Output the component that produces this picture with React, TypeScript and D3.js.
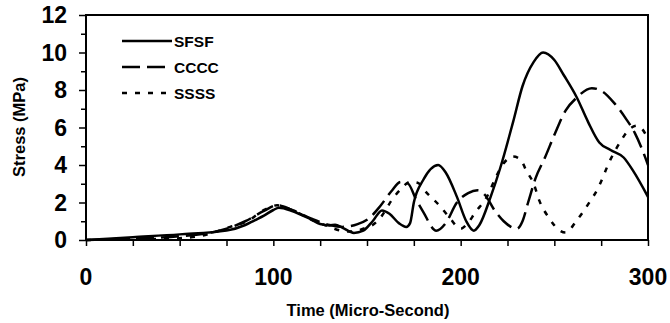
import React, { useEffect, useRef } from 'react';
import * as d3 from 'd3';

// stress histories (time in micro-second, stress in MPa)
const sfsfTime = [0, 25, 50, 75, 85, 90, 95, 100, 103, 110, 120, 125, 130, 133, 137, 143, 148, 153, 158, 162, 167, 171, 173, 175, 180, 188, 192, 198, 203, 207, 210, 216, 221, 228, 233, 239, 244, 250, 255, 262, 268, 274, 280, 287, 292, 300];
const sfsfStress = [0, 0.15, 0.3, 0.5, 0.8, 1.05, 1.3, 1.6, 1.72, 1.55, 1.1, 0.85, 0.78, 0.82, 0.65, 0.38, 0.5, 1.0, 1.58, 1.4, 0.9, 0.7, 0.9, 2.0, 3.2, 4.0, 3.6, 2.3, 1.0, 0.5, 0.8, 2.3, 3.8, 6.3, 8.2, 9.5, 10.0, 9.6, 8.8, 7.6, 6.3, 5.2, 4.8, 4.4, 3.7, 2.3];

const ccccTime = [0, 25, 50, 75, 85, 95, 102, 110, 120, 130, 137, 145, 151, 157, 163, 168, 172, 176, 180, 187, 192, 198, 204, 209, 213, 218, 223, 230, 233, 236, 240, 245, 250, 256, 262, 270, 276, 282, 288, 293, 297, 300];
const ccccStress = [0, 0.08, 0.2, 0.6, 1.0, 1.55, 1.85, 1.6, 1.15, 0.8, 0.7, 0.85, 1.15, 1.8, 2.6, 3.1, 3.0, 2.2, 1.5, 0.5, 0.9, 2.0, 2.5, 2.65, 2.4, 1.6, 1.0, 0.6, 1.0, 2.0, 3.3, 4.4, 5.6, 6.9, 7.6, 8.1, 7.9, 7.3, 6.5, 5.7, 4.8, 4.0];

const ssssTime = [0, 25, 41, 59, 77, 86, 96, 102, 110, 120, 130, 136, 142, 148, 153, 158, 163, 168, 173, 177, 182, 189, 194, 200, 203, 208, 214, 219, 223, 228, 232, 235, 239, 242, 247, 253, 256, 262, 268, 273, 280, 285, 290, 294, 297, 300];
const ssssStress = [0, 0.05, 0.06, 0.18, 0.7, 1.0, 1.65, 1.85, 1.6, 1.1, 0.7, 0.5, 0.45, 0.6, 0.8, 1.3, 2.1, 2.7, 3.1, 3.05, 2.5, 1.8, 1.2, 0.6, 0.8, 1.5, 2.3, 3.4, 4.1, 4.45, 4.3, 3.7, 3.0, 2.1, 1.2, 0.5, 0.4, 1.05, 1.9, 2.7, 4.3, 5.2, 5.9, 6.1, 5.9, 5.4];

const seriesNames = ['SFSF', 'CCCC', 'SSSS'];
const xTicks = [0, 100, 200, 300];
const yTicks = [0, 2, 4, 6, 8, 10, 12];

const App = () => {
  const svgRef = useRef<SVGSVGElement>(null);

  useEffect(() => {
    const width = 670;
    const height = 323;
    const margin = { top: 15, right: 22, bottom: 83, left: 86 };

    const svg = d3.select(svgRef.current).attr('width', width).attr('height', height);
    svg.selectAll('*').remove();

    const x = d3.scaleLinear().domain([0, 300]).range([margin.left, width - margin.right]);
    const y = d3.scaleLinear().domain([0, 12]).range([height - margin.bottom, margin.top]);

    const font = 'Liberation Sans, Arial, sans-serif';

    // frame
    svg.append('rect')
      .attr('x', x(0)).attr('y', y(12))
      .attr('width', x(300) - x(0)).attr('height', y(0) - y(12))
      .attr('fill', 'none').attr('stroke', '#000').attr('stroke-width', 2);

    // y axis
    const yAxis = svg.append('g').attr('transform', `translate(${x(0)},0)`);
    yAxis.call(d3.axisLeft(y).tickValues(d3.range(0, 13, 1)).tickSize(6).tickFormat(() => ''));
    yAxis.selectAll('.tick line').attr('stroke-width', 1.5)
      .attr('x2', (d: any) => (d % 2 === 0 ? -7 : -5));
    yAxis.select('.domain').remove();
    yTicks.forEach(v => {
      svg.append('text')
        .attr('x', 67).attr('y', y(v)).attr('dy', '0.36em')
        .attr('text-anchor', 'end')
        .attr('font-family', font).attr('font-weight', 'bold').attr('font-size', 23)
        .text(v);
    });

    // x axis
    const xAxis = svg.append('g').attr('transform', `translate(0,${y(0)})`);
    xAxis.call(d3.axisBottom(x).tickValues(d3.range(0, 301, 25)).tickSize(6).tickFormat(() => ''));
    xAxis.selectAll('.tick line').attr('stroke-width', 1.5);
    xAxis.select('.domain').remove();
    xTicks.forEach(v => {
      svg.append('text')
        .attr('x', x(v)).attr('y', 285)
        .attr('text-anchor', 'middle')
        .attr('font-family', font).attr('font-weight', 'bold').attr('font-size', 23)
        .text(v);
    });

    // axis titles
    svg.append('text')
      .attr('transform', `translate(25,127) rotate(-90)`)
      .attr('text-anchor', 'middle')
      .attr('font-family', font).attr('font-weight', 'bold').attr('font-size', 16.5)
      .text('Stress (MPa)');
    svg.append('text')
      .attr('x', 368).attr('y', 316)
      .attr('text-anchor', 'middle')
      .attr('font-family', font).attr('font-weight', 'bold').attr('font-size', 16.5)
      .text('Time (Micro-Second)');

    const line = d3.line<[number, number]>()
      .x(d => x(d[0]))
      .y(d => y(d[1]))
      .curve(d3.curveMonotoneX);

    const series = [
      { name: seriesNames[0], pts: d3.zip(sfsfTime, sfsfStress) as [number, number][], dash: null },
      { name: seriesNames[1], pts: d3.zip(ccccTime, ccccStress) as [number, number][], dash: '18,7' },
      { name: seriesNames[2], pts: d3.zip(ssssTime, ssssStress) as [number, number][], dash: '5,8' },
    ];

    const plot = svg.append('g');
    series.forEach(s => {
      plot.append('path')
        .attr('d', line(s.pts))
        .attr('fill', 'none')
        .attr('stroke', '#000')
        .attr('stroke-width', 2.5)
        .attr('stroke-dasharray', s.dash);
    });

    // legend
    const legend = svg.append('g');
    series.forEach((s, i) => {
      const ly = 41 + i * 26;
      legend.append('line')
        .attr('x1', 122).attr('x2', 172).attr('y1', ly).attr('y2', ly)
        .attr('stroke', '#000').attr('stroke-width', 2.5)
        .attr('stroke-dasharray', s.dash);
      legend.append('text')
        .attr('x', 174).attr('y', ly).attr('dy', '0.36em')
        .attr('font-family', font).attr('font-weight', 'bold').attr('font-size', 15.5)
        .text(s.name);
    });
  }, []);

  return <svg ref={svgRef} style={{ position: 'absolute', left: 0, top: 0 }}></svg>;
};

export default App;
